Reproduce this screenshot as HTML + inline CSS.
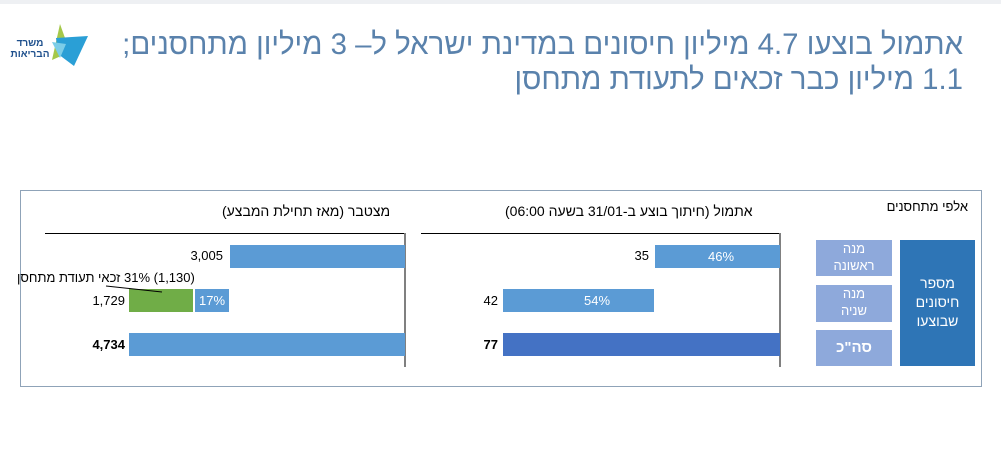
<!DOCTYPE html>
<html><head><meta charset="utf-8"><style>
body{margin:0;width:1001px;height:464px;background:#fff;position:relative;overflow:hidden;font-family:"Liberation Sans","Noto Sans CJK SC",sans-serif}
.a{position:absolute}
.t{position:absolute;white-space:nowrap;font-size:13px;color:#000}
</style></head><body>
<div class="a" style="left:0;top:0;width:1001px;height:4px;background:#eef0f3"></div>
<svg class="a" style="left:8px;top:22px" width="80" height="46">
<polygon points="52,2 62,30 44,38" fill="#a5c84a"/>
<polygon points="48,16 80,14 66,44 50,32" fill="#2a9fd6"/>
<polygon points="44,20 58,22 52,36" fill="#7ccde8"/>
<text x="22" y="24" font-size="10" fill="#1d4f8c" text-anchor="middle" font-weight="bold" font-family="Liberation Sans,Noto Sans CJK SC,sans-serif">משרד</text>
<text x="22" y="35" font-size="10" fill="#1d4f8c" text-anchor="middle" font-weight="bold" font-family="Liberation Sans,Noto Sans CJK SC,sans-serif">הבריאות</text>
</svg>
<div class="t" dir="rtl" style="right:38px;top:27px;font-size:30px;color:#5a82ac;line-height:35px;text-align:right;transform:scaleX(0.98);transform-origin:right">אתמול בוצעו 4.7 מיליון חיסונים במדינת ישראל ל– 3 מיליון מתחסנים;<br>1.1 מיליון כבר זכאים לתעודת מתחסן</div>
<div class="a" style="left:20px;top:190px;width:960px;height:195px;border:1px solid #8fa3b8"></div>
<div class="t" dir="rtl" style="left:222px;top:203px;font-size:14px">מצטבר (מאז תחילת המבצע)</div>
<div class="a" style="left:45px;top:233px;width:360px;height:1px;background:#000"></div>
<div class="a" style="left:404px;top:233px;width:2px;height:134px;background:#808080"></div>
<div class="a" style="left:230px;top:245px;width:175px;height:23px;background:#5b9bd5"></div>
<div class="t" style="right:778px;top:248px">3,005</div>
<div class="a" style="left:129px;top:289px;width:64px;height:23px;background:#70ad47"></div>
<div class="a" style="left:195px;top:289px;width:34px;height:23px;background:#5b9bd5"></div>
<div class="t" style="left:199px;top:293px;color:#fff">17%</div>
<div class="t" style="right:876px;top:293px">1,729</div>
<div class="t" dir="rtl" style="left:17px;top:270px">(1,130) 31% זכאי תעודת מתחסן</div>
<svg class="a" style="left:100px;top:284px" width="70" height="12"><line x1="6" y1="2" x2="62" y2="8" stroke="#000" stroke-width="1"/></svg>
<div class="a" style="left:129px;top:333px;width:276px;height:23px;background:#5b9bd5"></div>
<div class="t" style="right:876px;top:337px;font-weight:bold">4,734</div>
<div class="t" dir="rtl" style="left:505px;top:203px;font-size:14px">אתמול (חיתוך בוצע ב-31/01 בשעה 06:00)</div>
<div class="a" style="left:421px;top:233px;width:359px;height:1px;background:#000"></div>
<div class="a" style="left:779px;top:233px;width:2px;height:134px;background:#808080"></div>
<div class="a" style="left:655px;top:245px;width:125px;height:23px;background:#5b9bd5"></div>
<div class="t" style="left:708px;top:249px;color:#fff">46%</div>
<div class="t" style="right:352px;top:248px">35</div>
<div class="a" style="left:503px;top:289px;width:151px;height:23px;background:#5b9bd5"></div>
<div class="t" style="left:584px;top:293px;color:#fff">54%</div>
<div class="t" style="right:503px;top:293px">42</div>
<div class="a" style="left:503px;top:333px;width:277px;height:23px;background:#4472c4"></div>
<div class="t" style="right:503px;top:337px;font-weight:bold">77</div>
<div class="t" dir="rtl" style="right:33px;top:199px;font-size:13px">אלפי מתחסנים</div>
<div class="a" style="left:816px;top:240px;width:76px;height:36px;background:#8ea9db;color:#fff;font-size:13px;text-align:center;line-height:17px">מנה<br>ראשונה</div>
<div class="a" style="left:816px;top:285px;width:76px;height:37px;background:#8ea9db;color:#fff;font-size:13px;text-align:center;line-height:17px">מנה<br>שניה</div>
<div class="a" style="left:816px;top:330px;width:76px;height:36px;background:#8ea9db;color:#fff;font-size:15px;font-weight:bold;text-align:center;line-height:36px">סה"כ</div>
<div class="a" style="left:900px;top:240px;width:75px;height:126px;background:#2e75b6;color:#fff;font-size:14px;text-align:center;line-height:19px;box-sizing:border-box;padding-top:34px">מספר<br>חיסונים<br>שבוצעו</div>
</body></html>
